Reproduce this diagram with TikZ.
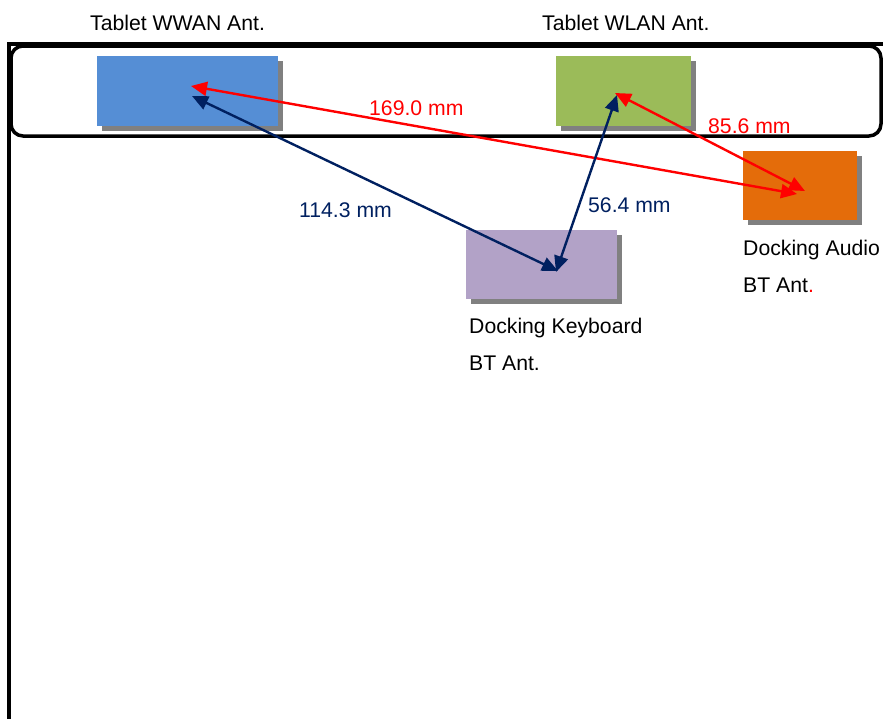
\documentclass[tikz,border=0pt]{standalone}
\usepackage{fontspec}
\setmainfont{Liberation Sans}
\usetikzlibrary{arrows.meta,shadows}
\definecolor{wwanblue}{RGB}{85,142,213}
\definecolor{wlangreen}{RGB}{155,187,89}
\definecolor{audioorange}{RGB}{228,108,10}
\definecolor{kbpurple}{RGB}{178,162,199}
\definecolor{navyarrow}{RGB}{0,32,96}
\definecolor{shadowgray}{RGB}{128,128,128}
\tikzset{
  antbox/.style={draw=none, inner sep=0pt, anchor=north west,
    drop shadow={shadow xshift=5pt, shadow yshift=-5pt, fill=shadowgray, opacity=1}},
  lbl/.style={inner sep=0pt, anchor=base west, font=\fontsize{21.2}{25}\selectfont},
  dim/.style={line width=2.4pt, {Triangle[length=16pt,width=14pt]}-{Triangle[length=16pt,width=14pt]}},
  frameline/.style={line width=3.5pt, black}
}
\begin{document}
\begin{tikzpicture}[x=1pt,y=-1pt]
\useasboundingbox (0,0) rectangle (883,718);
% frames
\draw[frameline] (9,720) -- (9,44) -- (890,44);
\draw[frameline, rounded corners=12pt] (11,46) rectangle (881,136);
% boxes
\node[antbox, fill=wwanblue, minimum width=181pt, minimum height=70pt] (wwan) at (97,56) {};
\node[antbox, fill=wlangreen, minimum width=135pt, minimum height=70pt] (wlan) at (556,56) {};
\node[antbox, fill=audioorange, minimum width=114pt, minimum height=69pt] (audio) at (743,151) {};
\node[antbox, fill=kbpurple, minimum width=151pt, minimum height=69pt] (kb) at (466,230) {};
% anchor points of the arrows
\coordinate (wwanR) at (191,86);
\coordinate (wwanN) at (192,96);
\coordinate (wlanR) at (615,93);
\coordinate (wlanN) at (617,95);
\coordinate (audioA) at (797,194);
\coordinate (audioB) at (805,191);
\coordinate (kbA) at (558,271);
\coordinate (kbB) at (556,272);
% arrows
\draw[dim, red] (wwanR) -- (audioA);
\draw[dim, red] (wlanR) -- (audioB);
\draw[dim, navyarrow] (wwanN) -- (kbA);
\draw[dim, navyarrow] (wlanN) -- (kbB);
% labels
\node[lbl] (t1) at (90,30) {Tablet WWAN Ant.};
\node[lbl] (t2) at (542,30) {Tablet WLAN Ant.};
\node[lbl] (a1) at (743,255) {Docking Audio};
\node[lbl] (a2) at (743,292) {BT Ant\textcolor{red}{.}};
\node[lbl] (k1) at (469,333) {Docking Keyboard};
\node[lbl] (k2) at (469,370) {BT Ant.};
\node[lbl, text=red] (d1) at (369,115) {169.0 mm};
\node[lbl, text=red] (d2) at (708,133) {85.6 mm};
\node[lbl, text=navyarrow] (d3) at (299,217) {114.3 mm};
\node[lbl, text=navyarrow] (d4) at (588,212) {56.4 mm};
\end{tikzpicture}
\end{document}
